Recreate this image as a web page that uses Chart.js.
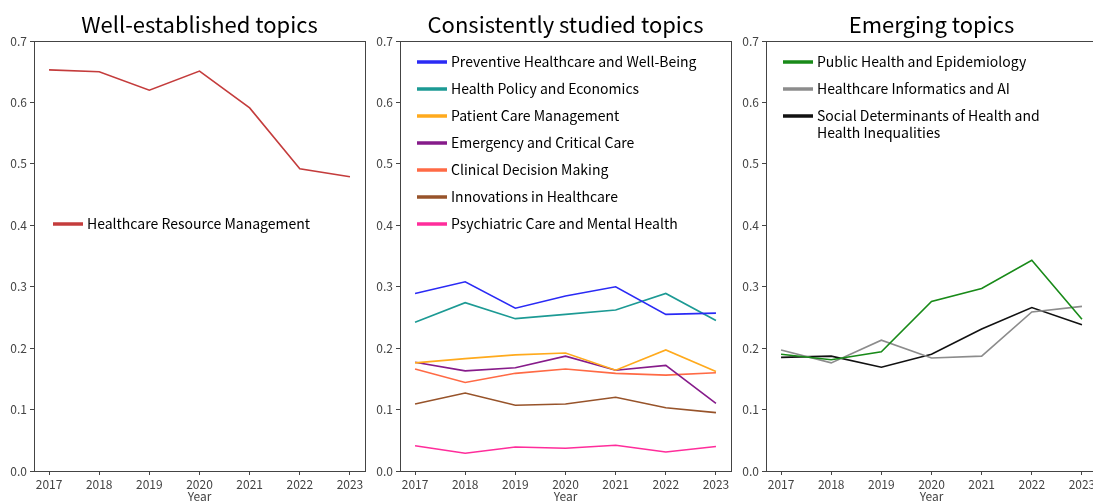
<!DOCTYPE html>
<html>
<head>
<meta charset="utf-8">
<script src="https://cdn.jsdelivr.net/npm/chart.js@4.4.1/dist/chart.umd.min.js"></script>
<style>
  html, body { margin: 0; padding: 0; background: #fff; width: 1093px; height: 502px; overflow: hidden; }
  .panel { position: absolute; top: 0; width: 370px; height: 512px; }
</style>
</head>
<body>
<div class="panel" style="left:0px"><canvas id="c1"></canvas></div>
<div class="panel" style="left:366px"><canvas id="c2"></canvas></div>
<div class="panel" style="left:732px"><canvas id="c3"></canvas></div>
<script>
// values
const years = [2017, 2018, 2019, 2020, 2021, 2022, 2023]
const yTicks = [0, 0.1, 0.2, 0.3, 0.4, 0.5, 0.6, 0.7]

// well-established
const resourceMgmt = [0.653, 0.650, 0.620, 0.651, 0.591, 0.492, 0.479]

// consistently studied
const preventive  = [0.289, 0.308, 0.265, 0.285, 0.300, 0.255, 0.257]
const policy      = [0.242, 0.274, 0.248, 0.255, 0.262, 0.289, 0.245]
const patientCare = [0.176, 0.183, 0.189, 0.192, 0.164, 0.197, 0.162]
const emergency   = [0.177, 0.163, 0.168, 0.187, 0.164, 0.172, 0.110]
const clinical    = [0.166, 0.144, 0.159, 0.166, 0.159, 0.156, 0.160]
const innovations = [0.109, 0.127, 0.107, 0.109, 0.120, 0.103, 0.095]
const psychiatric = [0.041, 0.029, 0.039, 0.037, 0.042, 0.031, 0.040]

// emerging
const publicHealth = [0.190, 0.181, 0.194, 0.276, 0.297, 0.343, 0.247]
const informatics  = [0.197, 0.176, 0.213, 0.184, 0.187, 0.259, 0.268]
const socialDet    = [0.185, 0.187, 0.169, 0.190, 0.231, 0.266, 0.238]

const FONT = '"Noto Sans CJK KR", "Noto Sans", sans-serif'

const points = (vals) => vals.map((v, i) => ({ x: years[i], y: v }))

const line = (label, vals, color) => ({
  label: label,
  data: points(vals),
  borderColor: color,
  backgroundColor: color,
  borderWidth: 1.6,
  pointRadius: 0,
  tension: 0
})

// wrap a legend label into lines no wider than maxWidth
const wrap = (ctx, text, maxWidth) => {
  const words = text.split(' ')
  const lines = []
  let cur = ''
  words.forEach(w => {
    const test = cur ? cur + ' ' + w : w
    if (ctx.measureText(test).width > maxWidth && cur) {
      lines.push(cur)
      cur = w
    } else {
      cur = test
    }
  })
  lines.push(cur)
  return lines
}

// legend drawn inside the plot, matplotlib style
const insideLegend = {
  id: 'insideLegend',
  afterDraw(chart, args, opts) {
    const { ctx, chartArea } = chart
    ctx.save()
    ctx.font = '14px ' + FONT
    ctx.textBaseline = 'middle'
    ctx.textAlign = 'left'
    const x = chartArea.left + opts.left
    let y = chartArea.top + opts.top
    chart.data.datasets.forEach(ds => {
      ctx.strokeStyle = ds.borderColor
      ctx.lineWidth = 3.5
      ctx.beginPath()
      ctx.moveTo(x, y)
      ctx.lineTo(x + 30, y)
      ctx.stroke()
      ctx.fillStyle = '#000'
      const lines = wrap(ctx, ds.label, opts.maxWidth)
      lines.forEach((t, i) => ctx.fillText(t, x + 34, y + i * 17))
      y += 27 + (lines.length - 1) * 17
    })
    ctx.restore()
  }
}

// title centred over the plot area and full box around the plot
const frame = {
  id: 'frame',
  afterDraw(chart, args, opts) {
    const { ctx, chartArea } = chart
    ctx.save()
    ctx.strokeStyle = '#444'
    ctx.lineWidth = 1
    ctx.strokeRect(chartArea.left + 0.5, chartArea.top + 0.5,
      chartArea.right - chartArea.left, chartArea.bottom - chartArea.top)
    ctx.fillStyle = '#000'
    ctx.font = '22px ' + FONT
    ctx.textAlign = 'center'
    ctx.textBaseline = 'middle'
    ctx.fillText(opts.text, (chartArea.left + chartArea.right) / 2, 25)
    ctx.restore()
  }
}

const makeChart = (id, title, datasets, legendOpts) => {
  new Chart(document.getElementById(id), {
    type: 'line',
    data: { datasets: datasets },
    plugins: [insideLegend, frame],
    options: {
      responsive: true,
      maintainAspectRatio: false,
      animation: false,
      layout: { padding: { left: 0, right: 5, top: 41, bottom: 0 } },
      plugins: {
        legend: { display: false },
        tooltip: { enabled: false },
        title: { display: false },
        frame: { text: title },
        insideLegend: legendOpts
      },
      scales: {
        x: {
          type: 'linear',
          min: 2016.7,
          max: 2023.3,
          afterBuildTicks: (axis) => { axis.ticks = years.map(v => ({ value: v })) },
          afterFit: (scale) => { scale.height = 41 },
          border: { display: false },
          grid: { drawOnChartArea: false, drawTicks: true, tickLength: 4, color: '#444' },
          ticks: {
            color: '#444',
            font: { family: FONT, size: 12 },
            padding: 2,
            maxRotation: 0,
            callback: (v) => String(v)
          },
          title: {
            display: true,
            text: 'Year',
            color: '#444',
            font: { family: FONT, size: 12 },
            padding: { top: 0, bottom: 8 }
          }
        },
        y: {
          min: 0,
          max: 0.7,
          afterBuildTicks: (axis) => { axis.ticks = yTicks.map(v => ({ value: v })) },
          afterFit: (scale) => { scale.width = 34 },
          border: { display: false },
          grid: { drawOnChartArea: false, drawTicks: true, tickLength: 4, color: '#444' },
          ticks: {
            color: '#444',
            font: { family: FONT, size: 12 },
            padding: 3,
            callback: (v) => v.toFixed(1)
          }
        }
      }
    }
  })
}

makeChart('c1', 'Well-established topics', [
  line('Healthcare Resource Management', resourceMgmt, '#c43c3c')
], { left: 19, top: 183, maxWidth: 260 })

makeChart('c2', 'Consistently studied topics', [
  line('Preventive Healthcare and Well-Being', preventive, '#2a2af5'),
  line('Health Policy and Economics', policy, '#1c9a94'),
  line('Patient Care Management', patientCare, '#ffaa1d'),
  line('Emergency and Critical Care', emergency, '#861b8a'),
  line('Clinical Decision Making', clinical, '#ff6a45'),
  line('Innovations in Healthcare', innovations, '#97532a'),
  line('Psychiatric Care and Mental Health', psychiatric, '#ff2d9b')
], { left: 17, top: 21, maxWidth: 280 })

makeChart('c3', 'Emerging topics', [
  line('Public Health and Epidemiology', publicHealth, '#188a18'),
  line('Healthcare Informatics and AI', informatics, '#8c8c8c'),
  line('Social Determinants of Health and Health Inequalities', socialDet, '#111111')
], { left: 17, top: 21, maxWidth: 232 })
</script>
</body>
</html>
